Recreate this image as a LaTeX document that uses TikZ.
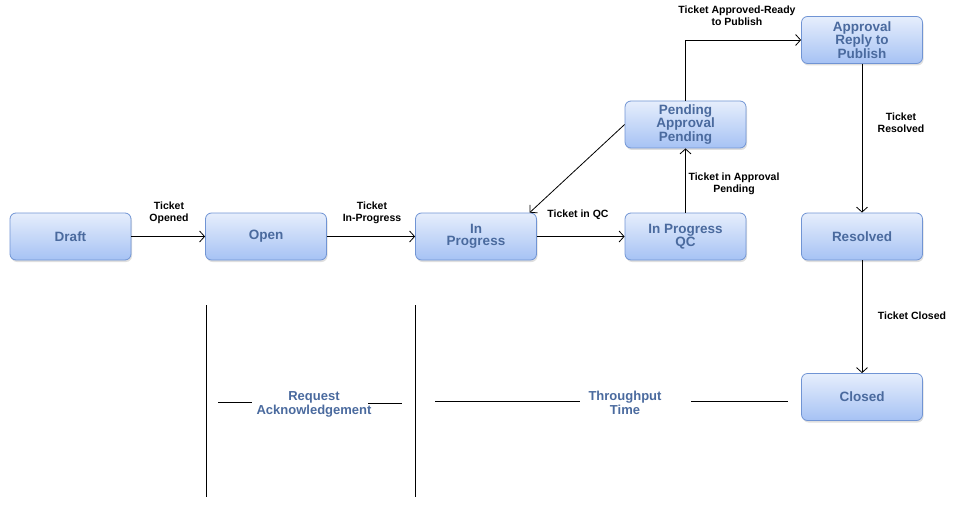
\documentclass[tikz,border=0pt]{standalone}
\usepackage{fontspec}
\setsansfont{Liberation Sans}
\usepackage{tikz}
\usetikzlibrary{positioning,arrows.meta,shadows}
\definecolor{StateText}{HTML}{4A6A9E}
\definecolor{StateLine}{HTML}{7094D4}
\definecolor{StateTop}{HTML}{E6EEFC}
\definecolor{StateBottom}{HTML}{A6C2F4}
\tikzset{
  stnode/.style={draw=StateLine,top color=StateTop,bottom color=StateBottom,
    rounded corners=6pt,minimum width=121pt,minimum height=47pt,
    font=\fontsize{13.5}{12.5}\selectfont\sffamily\bfseries\color{StateText},
    align=center,inner sep=2pt,line width=0.8pt,
    drop shadow={opacity=0.25,shadow xshift=1pt,shadow yshift=-2pt}},
  trlabel/.style={font=\fontsize{10.5}{12}\selectfont\sffamily\bfseries,
    align=center,inner sep=1pt},
  spanlabel/.style={font=\fontsize{13}{14}\selectfont\sffamily\bfseries\color{StateText},
    align=center,inner sep=1pt},
  edgeT/.style={line width=0.8pt,-{Straight Barb[length=5pt,width=11pt]}},
  spanline/.style={line width=0.8pt},
}
\begin{document}
\begin{tikzpicture}[x=1pt,y=-1pt]
  \useasboundingbox (0,0) rectangle (955,505);
  % states
  \node[stnode] (draft) at (70.5,236.5) {Draft};
  \node[stnode] (open) at (266,236.5) {Open};
  \node[stnode] (inprog) at (476,236.5) {In\\Progress};
  \node[stnode] (progqc) at (685.5,236.5) {In Progress\\QC};
  \node[stnode] (pending) at (685.5,124.5) {Pending\\Approval\\Pending};
  \node[stnode] (approval) at (862,40) {Approval\\Reply to\\Publish};
  \node[stnode] (resolved) at (862,236.5) {Resolved};
  \node[stnode] (closed) at (862,397) {Closed};
  % transitions
  \draw[edgeT] (draft) -- (open);
  \draw[edgeT] (open) -- (inprog);
  \draw[edgeT] (inprog) -- (progqc);
  \draw[edgeT] (progqc) -- (pending);
  \draw[edgeT] (pending.west) -- (inprog.24);
  \draw[edgeT] (pending.north) |- (approval.west);
  \draw[edgeT] (approval) -- (resolved);
  \draw[edgeT] (resolved) -- (closed);
  \node[trlabel] (lopened) at (169,213) {Ticket\\Opened};
  \node[trlabel] (linprog) at (372,213) {Ticket\\In-Progress};
  \node[trlabel] (lqc) at (578,215) {Ticket in QC};
  \node[trlabel] (lapppend) at (734,184) {Ticket in Approval\\Pending};
  \node[trlabel] (lready) at (737,16) {Ticket Approved-Ready\\to Publish};
  \node[trlabel] (lresolved) at (901,123) {Ticket\\Resolved};
  \node[trlabel] (lclosed) at (912,316) {Ticket Closed};
  % spans
  \draw[spanline] (206,305) -- (206,497);
  \draw[spanline] (415,305) -- (415,497);
  \node[spanlabel] (ack) at (314,404) {Request\\Acknowledgement};
  \node[spanlabel] (thru) at (625,403) {Throughput\\Time};
  \draw[spanline] (218,402) -- (252,402);
  \draw[spanline] (368,403) -- (402,403);
  \draw[spanline] (435,401) -- (580,401);
  \draw[spanline] (691,401) -- (788,401);
\end{tikzpicture}
\end{document}
